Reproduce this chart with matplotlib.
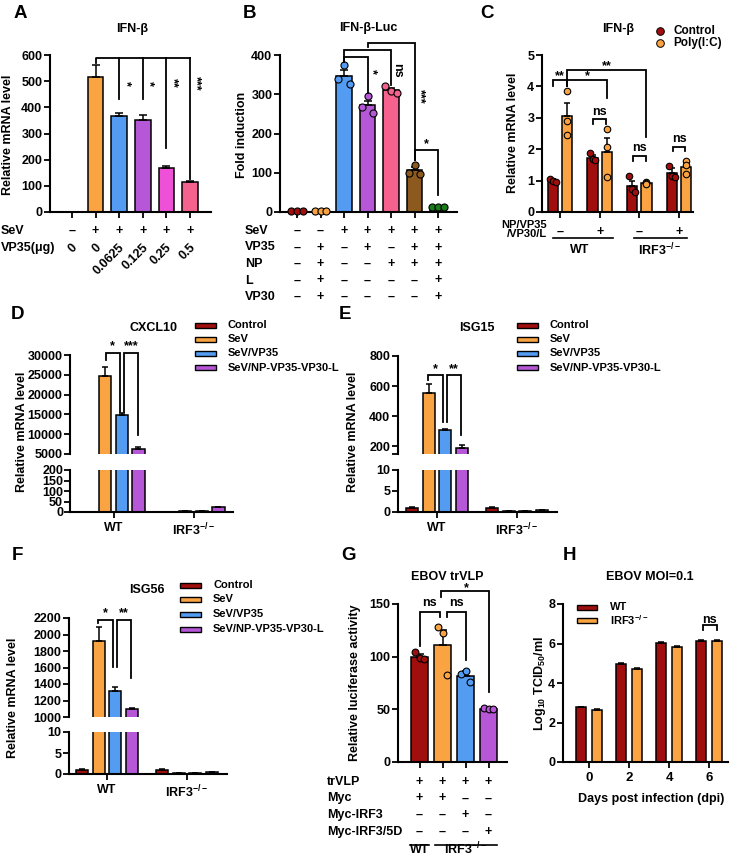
import matplotlib
matplotlib.use('Agg')
import matplotlib.pyplot as plt
import matplotlib.transforms as mtrans
from matplotlib.patches import Rectangle
from matplotlib.lines import Line2D
import numpy as np

plt.rcParams['font.family'] = ['Liberation Sans', 'DejaVu Sans']
plt.rcParams['font.weight'] = 'bold'
plt.rcParams['axes.labelweight'] = 'bold'
plt.rcParams['mathtext.fontset'] = 'custom'
plt.rcParams['mathtext.rm'] = 'Liberation Sans:bold'
plt.rcParams['mathtext.bf'] = 'Liberation Sans:bold'
plt.rcParams['mathtext.it'] = 'Liberation Sans:bold'
plt.rcParams['mathtext.default'] = 'bf'

RED = '#A10E0E'
ORANGE = '#FAA343'
BLUE = '#539CF2'
PURPLE = '#B657D8'
MAGENTA = '#EE50D8'
PINK = '#F5628E'
BROWN = '#8C5A1E'
GREEN = '#1B7A1B'
FS = 9

# ---- data ----
# A
a_sev = ['–', '+', '+', '+', '+', '+']
a_vp35 = ['0', '0', '0.0625', '0.125', '0.25', '0.5']
a_vals = [0, 515, 367, 350, 167, 113]
a_err = [0, 45, 10, 22, 8, 4]
a_colors = [ORANGE, ORANGE, BLUE, PURPLE, MAGENTA, PINK]

# B
b_rows = ['SeV', 'VP35', 'NP', 'L', 'VP30']
b_signs = [['–', '–', '+', '+', '+', '+', '+'],
           ['–', '+', '–', '+', '–', '+', '+'],
           ['–', '+', '–', '–', '+', '+', '+'],
           ['–', '+', '–', '–', '–', '–', '+'],
           ['–', '+', '–', '–', '–', '–', '+']]
b_vals = [2, 3, 347, 272, 312, 107, 13]
b_err = [0, 0, 15, 12, 5, 8, 1]
b_dots = [[2, 2, 2], [3, 3, 3], [338, 375, 325], [267, 296, 251],
          [321, 308, 304], [100, 120, 98], [13, 13, 13]]
b_colors = [RED, ORANGE, BLUE, PURPLE, PINK, BROWN, GREEN]

# C
c_signs = ['–', '+', '–', '+']
c_ctrl = [1.0, 1.73, 0.82, 1.25]
c_ctrl_err = [0.05, 0.1, 0.17, 0.14]
c_poly = [3.05, 1.9, 0.91, 1.44]
c_poly_err = [0.43, 0.47, 0.03, 0.16]
c_ctrl_dots = [[1.05, 1.0, 0.95], [1.89, 1.68, 1.65], [1.16, 0.73, 0.65], [1.47, 1.15, 1.12]]
c_poly_dots = [[3.86, 2.91, 2.45], [2.63, 2.08, 1.1], [0.94, 0.91, 0.88], [1.62, 1.5, 1.2]]

# D/E/F
series = ['Control', 'SeV', 'SeV/VP35', 'SeV/NP-VP35-VP30-L']
series_colors = [RED, ORANGE, BLUE, PURPLE]
cell_groups = ['WT', 'IRF3$^{-/-}$']
d_vals = [[1, 1], [24800, 3], [14900, 5], [6200, 22]]
d_err = [[0.1, 0.2], [2200, 0.5], [500, 0.5], [600, 2]]
e_vals = [[1.0, 1.0], [552, 0.3], [308, 0.3], [191, 0.4]]
e_err = [[0.1, 0.1], [65, 0.05], [9, 0.05], [17, 0.05]]
f_vals = [[1.0, 1.0], [1925, 0.3], [1313, 0.3], [1102, 0.4]]
f_err = [[0.1, 0.3], [160, 0.05], [45, 0.05], [12, 0.05]]

# G
g_rows = ['trVLP', 'Myc', 'Myc-IRF3', 'Myc-IRF3/5D']
g_signs = [['+', '+', '+', '+'],
           ['+', '+', '–', '–'],
           ['–', '–', '+', '–'],
           ['–', '–', '–', '+']]
g_vals = [100, 111, 82, 50]
g_err = [3, 14, 4, 1]
g_dots = [[104, 99, 98], [128, 122, 83], [84, 86, 76], [51, 50, 50]]
g_colors = [RED, ORANGE, BLUE, PURPLE]

# H
h_days = [0, 2, 4, 6]
h_wt = [2.76, 4.96, 6.03, 6.14]
h_wt_err = [0.03, 0.03, 0.03, 0.04]
h_ko = [2.65, 4.72, 5.80, 6.14]
h_ko_err = [0.04, 0.02, 0.08, 0.03]

# ---- figure ----
W, H = 730, 856
fig = plt.figure(figsize=(W / 100, H / 100), dpi=100)


def span(l, r, c0, s):
    return (-(c0 - l) / s, (r - c0) / s)


def make_ax(l, t, r, b, xlim, ylim, bottom=True):
    ax = fig.add_axes([l / W, 1 - b / H, (r - l) / W, (b - t) / H])
    ax.set_xlim(xlim)
    ax.set_ylim(ylim)
    ax.spines[['top', 'right']].set_visible(False)
    ax.spines[['left', 'bottom']].set_linewidth(1.5)
    ax.tick_params(width=1.3, length=4, labelsize=FS, pad=1.5)
    ax.patch.set_alpha(0)
    if not bottom:
        ax.spines['bottom'].set_visible(False)
        ax.tick_params(axis='x', bottom=False, labelbottom=False)
    return ax


def ftext(px, py, s, **kw):
    kw.setdefault('fontsize', FS)
    kw.setdefault('ha', 'center')
    kw.setdefault('va', 'center')
    fig.text(px / W, 1 - py / H, s, **kw)


def col_text(ax, x, py, s, **kw):
    kw.setdefault('fontsize', FS)
    kw.setdefault('ha', 'center')
    kw.setdefault('va', 'center')
    tr = mtrans.blended_transform_factory(ax.transData, fig.transFigure)
    ax.text(x, 1 - py / H, s, transform=tr, clip_on=False, **kw)


def fline(x1, x2, py):
    fig.add_artist(Line2D([x1 / W, x2 / W], [1 - py / H] * 2, color='black', lw=1.2))


def bars(ax, x, vals, err, colors, width, dots=None, jit=0.2, ms=22, cap=3):
    x = np.asarray(x, dtype=float)
    ax.bar(x, vals, width, color=colors, edgecolor='black', linewidth=1.1, zorder=2)
    if err is not None:
        err = np.asarray(err, dtype=float)
        keep = err > 0
        if keep.any():
            ax.errorbar(x[keep], np.asarray(vals, dtype=float)[keep],
                        yerr=[np.zeros(keep.sum()), err[keep]], fmt='none',
                        ecolor='black', elinewidth=1.1, capsize=cap, capthick=1.1, zorder=3)
    if dots is not None:
        for xi, d, c in zip(x, dots, colors):
            ax.scatter(xi + np.array([-jit, 0, jit]), d, s=ms, color=c,
                       edgecolor='black', linewidth=0.8, zorder=4, clip_on=False)


def bracket(ax, x1, x2, y, y1, y2):
    ax.plot([x1, x1, x2, x2], [y1, y, y, y2], color='black', lw=1.3,
            clip_on=False, zorder=5, solid_joinstyle='miter')


def sig(ax, x, y, s, rot=0, fs=FS):
    ax.text(x, y, s, rotation=rot, ha='center', va='center', fontsize=fs, clip_on=False)


def legend_rects(l, text_x, rows_y, labels, colors, w=21, h=5):
    for py, lab, c in zip(rows_y, labels, colors):
        fig.add_artist(Rectangle((l / W, 1 - (py + h / 2) / H), w / W, h / H,
                                 transform=fig.transFigure, facecolor=c,
                                 edgecolor='black', linewidth=1))
        ftext(text_x, py, lab, ha='left', fontsize=8)


# ---- A ----
axA = make_ax(50, 55, 211, 212, span(50, 211, 72, 23.6), (0, 600))
xa = np.arange(len(a_vals))
bars(axA, xa, a_vals, a_err, a_colors, 0.66)
axA.set_yticks(range(0, 601, 100))
axA.set_xticks(xa)
axA.set_xticklabels([])
axA.plot([1, 1, 5], [568, 587, 587], color='black', lw=1.3, clip_on=False)
for x, yb, s in zip([2, 3, 4, 5], [430, 430, 246, 126], ['*', '*', '**', '***']):
    axA.plot([x, x], [587, yb], color='black', lw=1.3, clip_on=False)
    sig(axA, x + 0.26, 492, s, rot=270)
for x, s in zip(xa, a_sev):
    col_text(axA, x, 231, s)
for x, s in zip(xa, a_vp35):
    col_text(axA, x + 0.15, 246, s, rotation=45, rotation_mode='anchor', ha='right')
ftext(1, 231, 'SeV', ha='left')
ftext(1, 248, 'VP35(μg)', ha='left')
ftext(8, 135, 'Relative mRNA level', rotation=90)
ftext(132, 29, 'IFN-β')
ftext(20, 13, 'A', fontsize=13.5)

# ---- B ----
axB = make_ax(280, 55, 457, 212, span(280, 457, 297, 23.5), (0, 400))
xb = np.arange(len(b_vals))
bars(axB, xb, b_vals, b_err, b_colors, 0.68, dots=b_dots, jit=0.24, ms=26)
axB.set_yticks(range(0, 401, 100))
axB.set_xticks(xb)
axB.set_xticklabels([])
bracket(axB, 2, 3, 396, 383, 304)
sig(axB, 3.2, 357, '*', rot=270)
bracket(axB, 2, 4, 413, 383, 324)
sig(axB, 4.25, 362, 'ns', rot=270)
bracket(axB, 3, 5, 431, 421, 132)
sig(axB, 5.22, 294, '***', rot=270)
bracket(axB, 5, 6, 158, 132, 43)
sig(axB, 5.5, 172, '*')
for r, (lab, signs) in enumerate(zip(b_rows, b_signs)):
    py = 231 + r * 16.5
    ftext(245, py, lab, ha='left')
    for x, s in zip(xb, signs):
        col_text(axB, x, py, s)
ftext(242, 135, 'Fold induction', rotation=90)
ftext(368, 28, 'IFN-β-Luc')
ftext(249, 13, 'B', fontsize=13.5)

# ---- C ----
axC = make_ax(542, 55, 693, 212, span(542, 693, 560, 39.67), (0, 5))
xc = np.arange(len(c_ctrl))
bars(axC, xc - 0.18, c_ctrl, c_ctrl_err, [RED] * 4, 0.26, dots=c_ctrl_dots, jit=0.07, ms=22, cap=2.5)
bars(axC, xc + 0.18, c_poly, c_poly_err, [ORANGE] * 4, 0.26, dots=c_poly_dots, jit=0.0, ms=22, cap=2.5)
axC.set_yticks(range(0, 6))
axC.set_xticks(xc)
axC.set_xticklabels([])
bracket(axC, -0.18, 0.18, 4.2, 4.02, 4.02)
sig(axC, 0, 4.34, '**')
bracket(axC, 0.18, 1.18, 4.2, 4.02, 3.62)
sig(axC, 0.68, 4.34, '*')
bracket(axC, 0.18, 2.18, 4.52, 4.04, 2.4)
sig(axC, 1.18, 4.66, '**')
for g, y in zip([1, 2, 3], [2.95, 1.78, 2.08]):
    bracket(axC, g - 0.16, g + 0.16, y, y - 0.15, y - 0.15)
    sig(axC, g, y + 0.25, 'ns')
for x, s in zip(xc, c_signs):
    col_text(axC, x, 232, s)
ftext(547, 229.5, 'NP/VP35\n/VP30/L', ha='right', ma='right', fontsize=8, linespacing=0.95)
fline(553, 613, 238)
fline(634, 687, 238)
ftext(580, 250, 'WT')
ftext(660, 250, 'IRF3$^{-/-}$')
ftext(513, 133, 'Relative mRNA level', rotation=90)
ftext(618, 29, 'IFN-β')
ftext(487, 13, 'C', fontsize=13.5)
for py, lab, c in zip([31, 43], ['Control', 'Poly(I:C)'], [RED, ORANGE]):
    fig.add_artist(Line2D([660 / W], [1 - py / H], marker='o', markersize=5.5,
                          markerfacecolor=c, markeredgecolor='black', markeredgewidth=0.7,
                          linestyle='none'))
    ftext(673, py, lab, ha='left', fontsize=8.5)

# ---- D / E / F (broken axes) ----
offs = np.array([-0.31, -0.103, 0.103, 0.31])
bw = 0.155


def grouped(axes_list, vals, errs):
    xg = np.arange(len(cell_groups))
    for ax in axes_list:
        for i in range(len(series)):
            bars(ax, xg + offs[i], vals[i], errs[i], [series_colors[i]] * len(xg), bw, cap=2.5)


def lower_ticks(ax):
    ax.set_xticks(np.arange(len(cell_groups)))
    ax.set_xticklabels(cell_groups, fontsize=FS)
    ax.tick_params(axis='x', pad=3)


# D
xl = span(70, 233, 113.5, 80)
dU = make_ax(70, 355, 233, 454, xl, (5000, 30000), bottom=False)
dL = make_ax(70, 470, 233, 512, xl, (0, 200))
grouped([dU, dL], d_vals, d_err)
dU.set_yticks(range(5000, 30001, 5000))
dL.set_yticks(range(0, 201, 50))
dL.tick_params(axis='y', pad=1)
lower_ticks(dL)
bracket(dU, -0.1, 0.075, 30590, 28740, 15690)
sig(dU, -0.01, 32300, '*')
bracket(dU, 0.135, 0.31, 30590, 15690, 9800)
sig(dU, 0.22, 32300, '***')
legend_rects(195, 228, [325, 339, 353, 368], series, series_colors)
ftext(153, 328, 'CXCL10')
ftext(22, 432, 'Relative mRNA level', rotation=90)
ftext(17, 314, 'D', fontsize=13.5)

# E
xl = span(398, 557, 437, 80)
eU = make_ax(398, 356, 557, 454, xl, (150, 800), bottom=False)
eL = make_ax(398, 470, 557, 512, xl, (0, 10))
grouped([eU, eL], e_vals, e_err)
eU.set_yticks([150, 200, 400, 600, 800])
eU.set_yticklabels(['', '200', '400', '600', '800'])
eL.set_yticks([0, 5, 10])
lower_ticks(eL)
bracket(eU, -0.11, 0.07, 675, 642, 360)
sig(eU, -0.02, 712, '*')
bracket(eU, 0.13, 0.3, 675, 360, 279)
sig(eU, 0.215, 712, '**')
legend_rects(517, 550, [325, 339, 353, 368], series, series_colors)
ftext(477, 328, 'ISG15')
ftext(353, 432, 'Relative mRNA level', rotation=90)
ftext(345, 314, 'E', fontsize=13.5)

# F
xl = span(69, 227, 107, 80)
fU = make_ax(69, 618, 227, 717, xl, (1000, 2200), bottom=False)
fL = make_ax(69, 732, 227, 774, xl, (0, 10))
grouped([fU, fL], f_vals, f_err)
fU.set_yticks(range(1000, 2201, 200))
fL.set_yticks([0, 5, 10])
lower_ticks(fL)
bracket(fU, -0.11, 0.08, 2179, 2139, 1609)
sig(fU, -0.015, 2262, '*')
bracket(fU, 0.13, 0.3, 2179, 1609, 1467)
sig(fU, 0.215, 2262, '**')
legend_rects(180, 213, [585, 599, 614, 629], series, series_colors)
ftext(147, 590, 'ISG56')
ftext(13, 698, 'Relative mRNA level', rotation=90)
ftext(17, 556, 'F', fontsize=13.5)

# ---- G ----
axG = make_ax(398, 604, 507, 762, span(398, 507, 419.5, 23), (0, 150))
xg = np.arange(len(g_vals))
bars(axG, xg, g_vals, g_err, g_colors, 0.76, dots=g_dots, jit=0.2, ms=24)
axG.set_yticks(range(0, 151, 50))
axG.set_xticks(xg)
axG.set_xticklabels([])
bracket(axG, 0, 0.87, 142.7, 110, 138)
sig(axG, 0.43, 150.5, 'ns')
bracket(axG, 1.2, 2.0, 142.7, 138, 97)
sig(axG, 1.6, 150.5, 'ns')
bracket(axG, 0.93, 3, 162.3, 157, 66)
sig(axG, 2.05, 165, '*')
for r, (lab, signs) in enumerate(zip(g_rows, g_signs)):
    py = 782 + r * 16.5
    ftext(327, py, lab, ha='left')
    for x, s in zip(xg, signs):
        col_text(axG, x, py, s)
fline(410, 429, 845)
fline(435, 497, 845)
ftext(420, 850, 'WT')
ftext(466, 849, 'IRF3$^{-/-}$')
ftext(355, 683, 'Relative luciferase activity', rotation=90)
ftext(447, 577, 'EBOV trVLP')
ftext(348, 556, 'G', fontsize=13.5)

# ---- H ----
axH = make_ax(563, 604, 728, 762, span(563, 728, 589, 20), (0, 8))
xh = np.array(h_days, dtype=float)
bars(axH, xh - 0.39, h_wt, h_wt_err, [RED] * 4, 0.5, cap=2.5)
bars(axH, xh + 0.39, h_ko, h_ko_err, [ORANGE] * 4, 0.5, cap=2.5)
axH.set_yticks(range(0, 9, 2))
axH.set_xticks(h_days)
axH.tick_params(axis='x', labelsize=9.5, pad=3)
bracket(axH, 5.68, 6.38, 6.95, 6.66, 6.66)
sig(axH, 6.03, 7.2, 'ns')
legend_rects(577, 610, [607, 620], ['WT', 'IRF3$^{-/-}$'], [RED, ORANGE], w=20)
ftext(540, 683, 'Log$_{10}$ TCID$_{50}$/ml', rotation=90)
ftext(651, 799, 'Days post infection (dpi)')
ftext(650, 577, 'EBOV MOI=0.1')
ftext(570, 556, 'H', fontsize=13.5)

fig.savefig('out.png', dpi=100)
